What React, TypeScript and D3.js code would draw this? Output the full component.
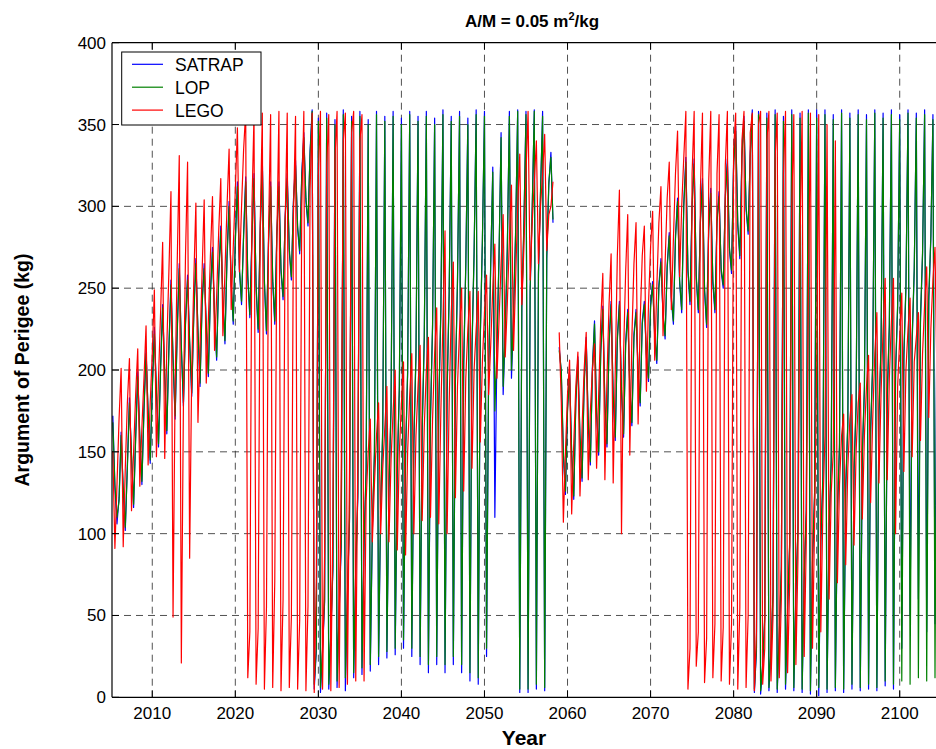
import React from "react";
import * as d3 from "d3";

const W = 936;
const H = 749;

// sampling: 4 samples per year starting at 2005.0 (quarter-year steps)
const YEAR_START = 2005;
const YEAR_STEP = 0.25;

const X_TICKS = [2010, 2020, 2030, 2040, 2050, 2060, 2070, 2080, 2090, 2100];
const Y_TICKS = [0, 50, 100, 150, 200, 250, 300, 350, 400];

type V = number | null;

// SATRAP (blue) — one row per year: [Y.00, Y.25, Y.50, Y.75]
const SATRAP_ROWS: V[][] = [
  [null,172,128,106],[122,162,126,102],[142,183,146,116],[160,199,158,130],[177,213,173,143],
  [190,226,186,153],[202,240,196,161],[214,255,206,170],[224,265,213,178],[230,258,216,184],
  [235,268,223,190],[242,265,226,196],[248,275,232,206],[258,288,242,216],[270,303,252,228],
  [280,315,260,240],[284,318,256,232],[282,320,250,223],[287,329,253,222],[280,315,254,228],
  [284,315,260,243],[294,320,272,255],[304,328,286,271],[320,345,303,288],[334,359,5,28],
  [354,3,28,58],[357,5,38,78],[353,6,52,92],[359,4,62,108],[355,12,78,122],
  [358,14,92,138],[353,16,102,148],[358,20,115,162],[355,24,128,176],[358,26,138,188],
  [354,30,148,198],[358,25,155,208],[355,20,162,218],[358,15,170,226],[354,20,178,236],
  [359,15,186,246],[355,20,193,253],[358,15,203,263],[354,10,213,270],[359,8,220,278],
  [358,25,198,263],[324,110,213,268],[345,185,223,273],[358,195,233,283],[359,3,238,288],
  [358,3,248,298],[359,5,258,308],[358,4,268,313],[333,290,null,null],[214,198,148,124],
  [177,199,148,121],[182,208,158,132],[192,220,166,142],[202,230,173,148],[212,239,178,153],
  [217,242,183,157],[220,242,186,159],[217,237,188,166],[222,237,198,178],[230,242,208,193],
  [240,254,220,204],[252,268,233,219],[264,284,243,228],[282,305,253,235],[302,330,260,240],
  [302,329,256,235],[292,317,248,226],[287,311,253,235],[292,309,260,250],[307,329,273,259],
  [327,349,288,268],[332,355,298,283],[333,359,3,28],[358,2,18,48],[357,4,28,63],
  [359,3,38,78],[355,5,52,93],[359,4,62,103],[357,3,72,113],[359,2,82,123],
  [359,1,95,133],[359,3,103,143],[356,4,112,153],[359,3,127,166],[357,5,137,178],
  [359,4,147,188],[356,5,162,203],[359,4,172,213],[357,7,182,226],[359,5,197,238],
  [356,30,207,250],[359,50,217,260],[357,60,229,270],[359,40,242,280],[356,45,255,290],
  [359],
];

// LOP (green)
const LOP_ROWS: V[][] = [
  [null,168,130,110],[120,160,128,104],[140,180,148,118],[158,196,160,132],[175,210,175,145],
  [188,222,188,155],[200,238,198,163],[212,252,208,172],[222,262,215,180],[228,255,218,186],
  [233,265,225,192],[240,262,228,198],[246,272,234,208],[256,285,244,218],[268,300,254,230],
  [278,312,262,242],[282,315,258,234],[280,317,252,225],[285,326,255,224],[278,312,256,230],
  [282,312,262,245],[292,317,274,257],[302,325,288,273],[318,342,305,290],[332,358,8,30],
  [352,6,30,60],[354,8,40,80],[350,10,55,95],[356,12,65,110],[352,15,80,125],
  [355,18,95,140],[350,20,105,150],[356,25,118,165],[352,28,130,178],[355,30,140,190],
  [350,35,150,200],[356,30,158,210],[352,25,165,220],[355,20,172,228],[350,25,180,238],
  [356,20,188,248],[352,25,195,255],[355,20,205,265],[350,15,215,272],[356,12,222,280],
  [355,30,200,265],[321,175,215,270],[342,190,225,275],[355,200,235,285],[358,5,240,290],
  [356,5,250,300],[358,8,260,310],[355,6,270,315],[330,292,null,null],[212,200,150,126],
  [175,197,150,123],[180,206,160,134],[190,218,168,144],[200,228,175,150],[210,237,180,155],
  [215,240,185,159],[218,240,188,161],[215,235,190,168],[220,235,200,180],[228,240,210,195],
  [238,252,222,206],[250,266,235,221],[262,282,245,230],[280,303,255,237],[300,327,262,242],
  [300,326,258,237],[290,314,250,228],[285,308,255,237],[290,306,262,252],[305,326,275,261],
  [325,346,290,270],[330,352,300,285],[330,356,5,30],[356,4,20,50],[354,6,30,65],
  [356,5,40,80],[352,8,55,95],[356,6,65,105],[354,5,75,115],[357,4,85,125],
  [354,6,97,135],[356,5,105,145],[353,6,115,155],[357,5,130,168],[354,8,140,180],
  [356,6,150,190],[353,8,165,205],[357,6,175,215],[354,10,185,228],[356,8,200,240],
  [353,10,210,252],[357,8,220,262],[354,12,232,272],[356,10,245,282],[353,12,258,292],
  [357],
];

// LEGO (red)
const LEGO_ROWS: V[][] = [
  [null,150,91,130],[170,201,92,140],[180,207,114,150],[185,213,129,165],[195,227,142,180],
  [210,249,147,195],[235,278,146,215],[260,309,49,190],[265,331,21,180],[270,327,85,200],
  [255,302,168,215],[260,304,192,230],[270,306,212,245],[285,317,221,260],[300,335,237,275],
  [310,348,260,300],[335,358,12,40],[300,356,8,42],[290,357,5,55],[285,356,6,71],
  [280,358,4,60],[290,357,6,49],[295,355,5,47],[300,358,4,56],[310,357,3,70],
  [320,358,5,87],[325,356,4,109],[330,358,6,135],[340,357,8,140],[345,358,10,145],
  [340,356,10,120],[150,170,95,130],[160,180,100,140],[165,190,95,145],[175,200,90,150],
  [180,205,87,150],[185,210,100,160],[190,215,108,165],[200,220,110,170],[210,238,106,175],
  [230,285,100,180],[235,266,122,190],[225,250,126,195],[225,248,140,200],[225,248,156,205],
  [235,258,185,215],[250,277,195,230],[265,295,208,240],[280,313,212,255],[300,332,240,275],
  [320,358,255,290],[315,340,265,300],[320,344,273,295],[300,315,null,null],[223,180,107,150],
  [185,206,112,155],[190,211,123,165],[200,223,133,175],[200,216,140,185],[230,259,133,195],
  [240,271,131,200],[270,310,100,210],[260,295,148,220],[265,290,167,230],[270,288,187,240],
  [275,297,206,250],[290,312,221,265],[305,327,237,280],[320,346,257,300],[330,358,5,30],
  [320,358,19,40],[310,357,9,36],[315,358,12,45],[320,356,10,43],[325,358,8,45],
  [335,357,5,55],[340,358,6,50],[345,357,4,40],[350,358,8,30],[340,358,10,50],
  [330,357,12,60],[320,358,15,70],[300,356,20,85],[280,358,25,95],[250,357,30,105],
  [200,356,40,115],[160,350,60,125],[150,340,70,130],[160,173,81,140],[170,185,93,150],
  [180,192,109,160],[190,209,119,170],[210,235,131,185],[225,256,133,195],[230,256,100,190],
  [220,247,138,200],[225,244,147,205],[220,235,157,210],[240,263,171,225],[255,275,190,240],
  [265],
];

const SERIES = [
  { name: "SATRAP", color: "#0000ff", rows: SATRAP_ROWS },
  { name: "LOP", color: "#008000", rows: LOP_ROWS },
  { name: "LEGO", color: "#ff0000", rows: LEGO_ROWS },
];

const FONT = "'Liberation Sans', Arial, Helvetica, sans-serif";

export default function App() {
  const left = 112;
  const right = 936;
  const top = 42.7;
  const bottom = 697.3;

  const x = d3.scaleLinear().domain([2005.15, 2104.37]).range([left, right]);
  const y = d3.scaleLinear().domain([0, 400]).range([bottom, top]);

  type P = { t: number; v: number | null };
  const line = d3
    .line<P>()
    .defined((d) => d.v !== null && d.v !== undefined)
    .x((d) => x(d.t))
    .y((d) => y(d.v as number));

  const paths = SERIES.map((s) => {
    const vals = s.rows.flat();
    const pts: P[] = vals.map((v, i) => ({ t: YEAR_START + i * YEAR_STEP, v }));
    return { ...s, d: line(pts) || "" };
  });

  const dash = "7,5";

  return (
    <svg
      width={W}
      height={H}
      style={{ position: "absolute", left: 0, top: 0, background: "#fff" }}
      fontFamily={FONT}
    >
      <rect x={0} y={0} width={W} height={H} fill="#fff" />
      <defs>
        <clipPath id="plotclip">
          <rect x={left} y={top} width={right - left} height={bottom - top} />
        </clipPath>
      </defs>

      {/* grid */}
      <g stroke="#000" strokeWidth={0.8} strokeDasharray={dash} opacity={0.85}>
        {X_TICKS.map((t) => (
          <line key={"gx" + t} x1={x(t)} x2={x(t)} y1={top} y2={bottom} />
        ))}
        {Y_TICKS.filter((t) => t > 0 && t < 400).map((t) => (
          <line key={"gy" + t} x1={left} x2={right} y1={y(t)} y2={y(t)} />
        ))}
      </g>

      {/* data */}
      <g clipPath="url(#plotclip)" fill="none" strokeWidth={1.2} strokeLinejoin="round">
        {paths.map((p) => (
          <path key={p.name} d={p.d} stroke={p.color} />
        ))}
      </g>

      {/* axes box */}
      <g stroke="#000" strokeWidth={1.2} fill="none">
        <line x1={left} x2={right} y1={top} y2={top} />
        <line x1={left} x2={right} y1={bottom} y2={bottom} />
        <line x1={left} x2={left} y1={top} y2={bottom} />
      </g>
      {/* ticks */}
      <g stroke="#000" strokeWidth={1}>
        {X_TICKS.map((t) => (
          <g key={"tx" + t}>
            <line x1={x(t)} x2={x(t)} y1={bottom} y2={bottom - 7} />
            <line x1={x(t)} x2={x(t)} y1={top} y2={top + 7} />
          </g>
        ))}
        {Y_TICKS.map((t) => (
          <line key={"ty" + t} x1={left} x2={left + 7} y1={y(t)} y2={y(t)} />
        ))}
      </g>

      {/* tick labels */}
      <g fontSize={17} fill="#000">
        {X_TICKS.map((t) => (
          <text key={"lx" + t} x={x(t)} y={718.5} textAnchor="middle">
            {t}
          </text>
        ))}
        {Y_TICKS.map((t) => (
          <text key={"ly" + t} x={106} y={y(t) + 6} textAnchor="end">
            {t}
          </text>
        ))}
      </g>

      {/* title & labels */}
      <text x={532} y={27} textAnchor="middle" fontWeight="bold" fontSize={17}>
        A/M = 0.05 m<tspan dy={-7} fontSize={11}>2</tspan>
        <tspan dy={7}>/kg</tspan>
      </text>
      <text x={524} y={745} textAnchor="middle" fontWeight="bold" fontSize={21}>
        Year
      </text>
      <text
        transform={`translate(29, ${(top + bottom) / 2}) rotate(-90)`}
        textAnchor="middle"
        fontWeight="bold"
        fontSize={19.5}
      >
        Argument of Perigee (kg)
      </text>

      {/* legend */}
      <g>
        <rect x={121.7} y={52} width={139.3} height={73} fill="#fff" stroke="#000" strokeWidth={1} />
        {SERIES.map((s, i) => {
          const ly = 64.3 + i * 22.9;
          return (
            <g key={"lg" + s.name}>
              <line x1={132} x2={163} y1={ly} y2={ly} stroke={s.color} strokeWidth={1.2} />
              <text x={175} y={ly + 6.5} fontSize={17.5}>
                {s.name}
              </text>
            </g>
          );
        })}
      </g>
    </svg>
  );
}
